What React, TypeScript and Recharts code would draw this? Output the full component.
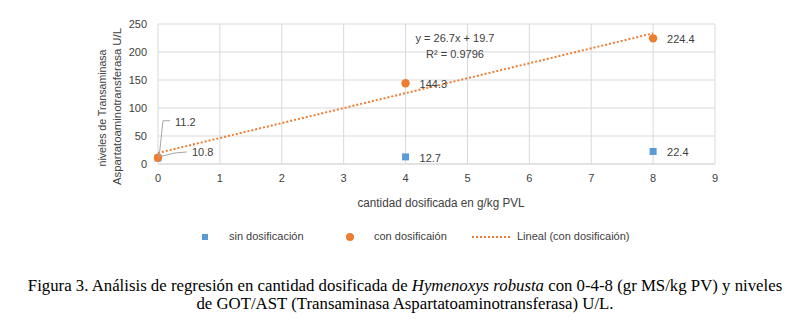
import { ScatterChart, Scatter, XAxis, YAxis, CartesianGrid } from 'recharts';

document.body.style.margin = '0';

const dosis = [0, 4, 8];
const sinDosificacion = [10.8, 12.7, 22.4];
const conDosificacion = [11.2, 144.3, 224.4];
const xTicks = [0, 1, 2, 3, 4, 5, 6, 7, 8, 9];
const yTicks = [0, 50, 100, 150, 200, 250];
const pendiente = 26.7;
const intercepto = 19.7;
const r2 = 0.9796;
const trendX = [0, 8];
const xTitle = 'cantidad dosificada en g/kg PVL';
const yTitle = ['niveles de Transaminasa', 'Aspartatoaminotransferasa U/L'];

const BLUE = '#5b9bd5';
const ORANGE = '#ed7d31';
const TEXT = '#404040';
const FONT = '"Liberation Sans", Arial, sans-serif';

const sinData = dosis.map((x, i) => ({ x, y: sinDosificacion[i] }));
const conData = dosis.map((x, i) => ({ x, y: conDosificacion[i] }));
const trendData = trendX.map((x) => ({ x, y: +(pendiente * x + intercepto).toFixed(1) }));

// leader lines for the two labels sitting on top of each other at x = 0
const leaders: Record<string, { path: [number, number][]; tx: number; ty: number }> = {
  'sin-0': { path: [[1, -1], [17, -5], [29, -6]], tx: 34, ty: -6 },
  'con-0': { path: [[1, 0], [5, -37], [12, -37]], tx: 17, ty: -36 },
};

function makeShape(kind: 'sin' | 'con') {
  return (props: any) => {
    const { cx, cy, index, payload } = props;
    const leader = leaders[`${kind}-${index}`];
    const tx = leader ? leader.tx : 14;
    const ty = leader ? leader.ty : 1;
    return (
      <g>
        {kind === 'sin' ? (
          <rect x={cx - 3.5} y={cy - 3.5} width={7} height={7} fill={BLUE} />
        ) : (
          <circle cx={cx} cy={cy} r={4.2} fill={ORANGE} />
        )}
        {leader && (
          <polyline
            points={leader.path.map(([dx, dy]) => `${cx + dx},${cy + dy}`).join(' ')}
            fill="none"
            stroke="#a6a6a6"
            strokeWidth={1}
          />
        )}
        <text x={cx + tx} y={cy + ty} dominantBaseline="central" fontSize={11} fill={TEXT} fontFamily={FONT}>
          {payload.y.toFixed(1)}
        </text>
      </g>
    );
  };
}

// axis titles: centre x, centre y, drawn length, rotation
const yTitlePos = [
  { x: 102, y: 108, len: 117 },
  { x: 117, y: 106.5, len: 157 },
];

export default function App() {
  return (
    <div style={{ position: 'relative', width: 807, height: 321, background: '#fff', fontFamily: FONT }}>
      <ScatterChart width={807} height={215} margin={{ top: 24, right: 92, left: 0, bottom: 0 }}>
        <CartesianGrid stroke="#d9d9d9" />
        <XAxis
          type="number"
          dataKey="x"
          domain={[0, 9]}
          ticks={xTicks}
          height={51}
          tickSize={0}
          tickMargin={10}
          axisLine={{ stroke: '#d9d9d9' }}
          tick={{ fontSize: 11, fill: TEXT, fontFamily: FONT }}
        />
        <YAxis
          type="number"
          dataKey="y"
          domain={[0, 250]}
          ticks={yTicks}
          width={158}
          tickSize={0}
          tickMargin={11}
          axisLine={false}
          tick={{ fontSize: 11, fill: TEXT, fontFamily: FONT }}
        />
        <Scatter
          name="Lineal (con dosificaión)"
          data={trendData}
          line={{ stroke: ORANGE, strokeWidth: 2, strokeDasharray: '2 2' }}
          shape={() => null}
          isAnimationActive={false}
        />
        <Scatter name="sin dosificación" data={sinData} shape={makeShape('sin')} isAnimationActive={false} />
        <Scatter name="con dosificaión" data={conData} shape={makeShape('con')} isAnimationActive={false} />
      </ScatterChart>

      <svg style={{ position: 'absolute', left: 0, top: 0, pointerEvents: 'none' }} width={807} height={215}>
        {yTitle.map((t, i) => {
          const p = yTitlePos[i];
          return (
            <text
              key={t}
              x={p.x}
              y={p.y}
              transform={`rotate(-90, ${p.x}, ${p.y})`}
              textAnchor="middle"
              dominantBaseline="central"
              textLength={p.len}
              lengthAdjust="spacingAndGlyphs"
              fontSize={11.5}
              fill={TEXT}
              fontFamily={FONT}
            >
              {t}
            </text>
          );
        })}
        <text
          x={441}
          y={203}
          textAnchor="middle"
          dominantBaseline="central"
          textLength={167}
          lengthAdjust="spacingAndGlyphs"
          fontSize={12}
          fill={TEXT}
          fontFamily={FONT}
        >
          {xTitle}
        </text>
      </svg>

      <div style={{ position: 'absolute', left: 0, top: 30, width: 910, textAlign: 'center', fontSize: 11, color: TEXT, lineHeight: '16px' }}>
        <div>y = {pendiente}x + {intercepto}</div>
        <div>R² = {r2}</div>
      </div>

      <div style={{ position: 'absolute', left: 0, top: 229, width: 807, height: 16, fontSize: 11, color: TEXT }}>
        <span style={{ position: 'absolute', left: 202, top: 5, width: 6, height: 6, background: BLUE }} />
        <span style={{ position: 'absolute', left: 229, top: 1 }}>sin dosificación</span>
        <span style={{ position: 'absolute', left: 346, top: 4, width: 8, height: 8, borderRadius: 4, background: ORANGE }} />
        <span style={{ position: 'absolute', left: 374, top: 1 }}>con dosificaión</span>
        <svg style={{ position: 'absolute', left: 471, top: 6 }} width={42} height={4}>
          <line x1={1} y1={2} x2={41} y2={2} stroke={ORANGE} strokeWidth={2} strokeDasharray="2 2" />
        </svg>
        <span style={{ position: 'absolute', left: 517, top: 1 }}>Lineal (con dosificaión)</span>
      </div>

      <div
        style={{
          position: 'absolute',
          left: 0,
          top: 277,
          width: 810,
          textAlign: 'center',
          fontFamily: '"Liberation Serif", "Times New Roman", serif',
          fontSize: 16.8,
          lineHeight: '18px',
          color: '#000',
        }}
      >
        Figura 3. Análisis de regresión en cantidad dosificada de <i>Hymenoxys robusta</i> con 0-4-8 (gr MS/kg PV) y niveles
        <br />
        de GOT/AST (Transaminasa Aspartatoaminotransferasa) U/L.
      </div>
    </div>
  );
}
